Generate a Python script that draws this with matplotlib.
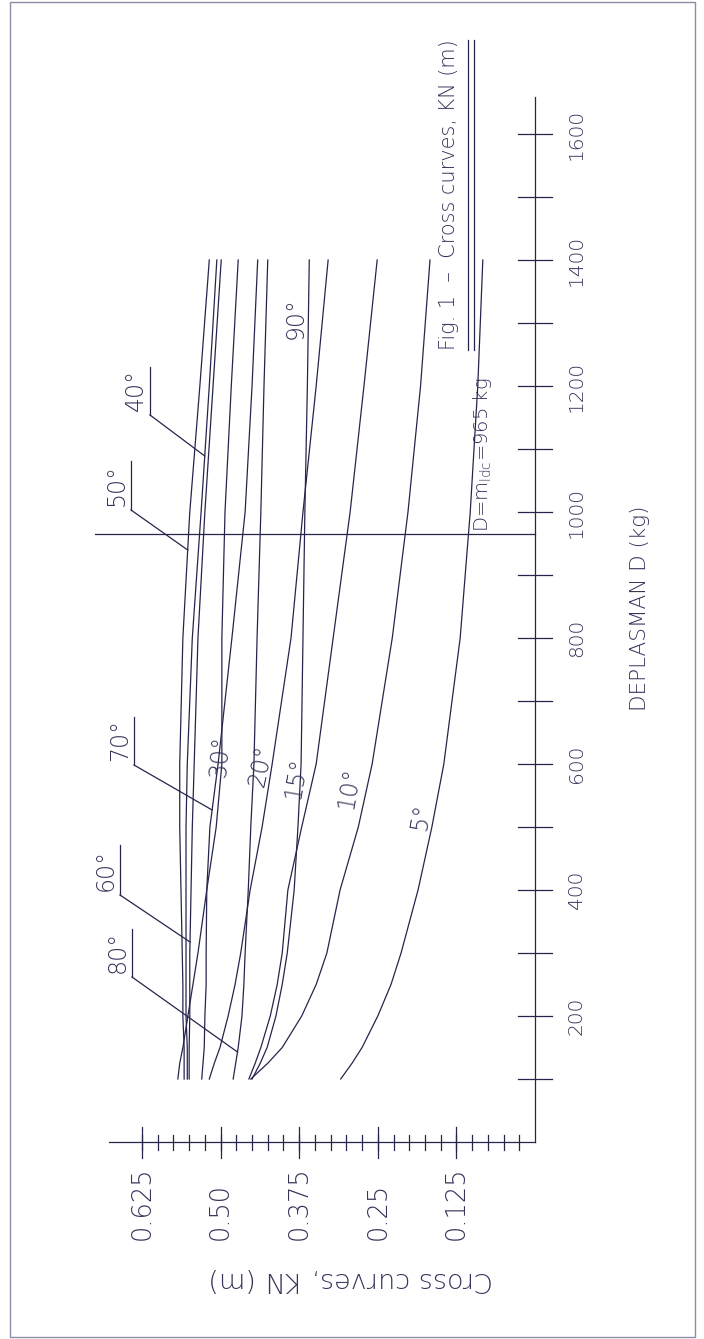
import numpy as np
import matplotlib
matplotlib.use('Agg')
import matplotlib.pyplot as plt

# displacement points (kg) at which the curves were read
D = [100, 125, 150, 200, 250, 300, 400, 500, 600, 800, 1000, 1200, 1400]

# KN (m) for each heel angle
kn_05 = [0.309, 0.291, 0.275, 0.250, 0.229, 0.213, 0.186, 0.164, 0.145, 0.119, 0.103, 0.091, 0.083]
kn_10 = [0.452, 0.425, 0.402, 0.371, 0.348, 0.331, 0.310, 0.281, 0.259, 0.227, 0.202, 0.182, 0.167]
kn_15 = [0.455, 0.445, 0.436, 0.421, 0.410, 0.402, 0.393, 0.371, 0.348, 0.321, 0.294, 0.272, 0.251]
kn_20 = [0.518, 0.510, 0.501, 0.488, 0.477, 0.468, 0.453, 0.434, 0.418, 0.388, 0.369, 0.348, 0.329]
kn_30 = [0.568, 0.565, 0.560, 0.552, 0.544, 0.536, 0.522, 0.507, 0.498, 0.498, 0.493, 0.483, 0.472]
kn_40 = [0.553, 0.553, 0.553, 0.555, 0.555, 0.555, 0.555, 0.555, 0.553, 0.545, 0.531, 0.518, 0.506]
kn_50 = [0.558, 0.558, 0.558, 0.560, 0.560, 0.561, 0.563, 0.565, 0.565, 0.560, 0.549, 0.533, 0.518]
kn_60 = [0.550, 0.550, 0.550, 0.549, 0.549, 0.549, 0.547, 0.545, 0.542, 0.536, 0.525, 0.512, 0.499]
kn_70 = [0.530, 0.528, 0.526, 0.525, 0.523, 0.523, 0.522, 0.517, 0.504, 0.482, 0.461, 0.450, 0.441]
kn_80 = [0.480, 0.476, 0.472, 0.466, 0.463, 0.461, 0.456, 0.452, 0.447, 0.442, 0.436, 0.431, 0.425]
kn_90 = [0.450, 0.437, 0.426, 0.412, 0.402, 0.394, 0.383, 0.377, 0.372, 0.369, 0.366, 0.362, 0.359]

curves = {5: kn_05, 10: kn_10, 15: kn_15, 20: kn_20, 30: kn_30, 40: kn_40,
          50: kn_50, 60: kn_60, 70: kn_70, 80: kn_80, 90: kn_90}

d_ticks = [100 * i for i in range(1, 17)]
d_labels = [200, 400, 600, 800, 1000, 1200, 1400, 1600]
kn_major = [0.125, 0.25, 0.375, 0.50, 0.625]
kn_major_txt = ['0.125', '0.25', '0.375', '0.50', '0.625']
kn_minor = [0.025 * i for i in range(1, 26)]
D_ldc = 965

# drawing is turned 90 deg: KN runs to the left, D runs up the page
W, H = 704, 1339
X0, SX = 535, 628.8      # pixel of KN=0, pixels per metre
Y0, SY = 1142, 0.63      # pixel (from top) of D=0, pixels per kg

def px(x):
    return (X0 - x) / SX

def py(y):
    return (Y0 - y) / SY

ink = '#25254c'
txt = '#34345a'
fam = ['DejaVu Sans']
plt.rcParams['mathtext.default'] = 'regular'

fig = plt.figure(figsize=(W / 100, H / 100), dpi=100)
ax = fig.add_axes([0, 0, 1, 1])
ax.set_xlim(px(0), px(W))
ax.set_ylim(py(H), py(0))
ax.axis('off')

# outer frame
fig.patches.append(plt.Rectangle((10 / W, 1 - 1337 / H), 685 / W, 1335 / H,
                                 transform=fig.transFigure, fill=False,
                                 ec='#8c8ca4', lw=1))

# D axis
ax.plot([0, 0], [0, py(97)], color=ink, lw=0.9)
for d in d_ticks:
    ax.plot([px(518), px(552)], [d, d], color=ink, lw=0.9)
for d in d_labels:
    ax.text(px(567), d, str(d), rotation=90, ha='left', va='center',
            fontsize=14.5, color=txt, family=fam, fontweight='light')
ax.text(px(640), py(608), 'DEPLASMAN D (kg)', rotation=90, ha='center',
        va='center', fontsize=15.5, color=txt, family=fam, fontweight='light')

# KN axis
ax.plot([0, px(109)], [0, 0], color=ink, lw=0.9)
for k in kn_minor:
    ax.plot([k, k], [py(1150), py(1135)], color=ink, lw=0.9)
for k, s in zip(kn_major, kn_major_txt):
    ax.plot([k, k], [py(1158), py(1127)], color=ink, lw=0.9)
    ax.text(k, py(1240), s, rotation=90, ha='center', va='bottom',
            fontsize=18.5, color=txt, family=fam, fontweight='light')
ax.text(px(351), py(1280), 'Cross curves, KN (m)', rotation=180, ha='center',
        va='center', fontsize=19.5, color=txt, family=fam, fontweight='light')

# curves
for a, kn in curves.items():
    ax.plot(kn, D, color=ink, lw=0.9)

# design displacement line
ax.plot([0, px(95)], [D_ldc, D_ldc], color=ink, lw=0.9)
ax.text(px(483), py(532), r'D=m$_{ldc}$=965 kg', rotation=90, ha='center',
        va='bottom', fontsize=14, color=txt, family=fam, fontweight='light')

# labels lying beside their curves, tilted a little along them
inline = {5: (421, 817, 80), 10: (349, 788, 80), 15: (296, 778, 80),
          20: (261, 766, 78), 30: (220, 756, 85), 90: (296, 318, 90)}
for a, (x, y, r) in inline.items():
    ax.text(px(x), py(y), f'{a}°', rotation=r, ha='center', va='center',
            fontsize=17, color=txt, family=fam, fontweight='light')

# labels with leaders: underline x, underline top, underline bottom, D of target
leaders = {40: (150, 367, 415, py(456)), 50: (131, 461, 510, py(550)),
           70: (134, 717, 765, py(810)), 60: (120, 845, 895, py(942)),
           80: (132, 929, 977, py(1052))}
for a, (x, y1, y2, dt) in leaders.items():
    kt = np.interp(dt, D, curves[a])
    ax.plot([px(x), px(x)], [py(y1), py(y2)], color=ink, lw=0.9)
    ax.plot([px(x), kt], [py(y2), dt], color=ink, lw=0.9)
    ax.text(px(x - 2), py(y2 - 4), f'{a}°', rotation=90, ha='right', va='bottom',
            fontsize=17, color=txt, family=fam, fontweight='light')

# title with double underline
ax.text(px(449), py(195), 'Fig. 1  \u2013  Cross curves, KN (m)', rotation=90,
        ha='center', va='center', fontsize=15, color=txt, family=fam,
        fontweight='light')
for x in (468, 474):
    ax.plot([px(x), px(x)], [py(350), py(40)], color=ink, lw=0.9)

fig.savefig('out.png', dpi=100)
